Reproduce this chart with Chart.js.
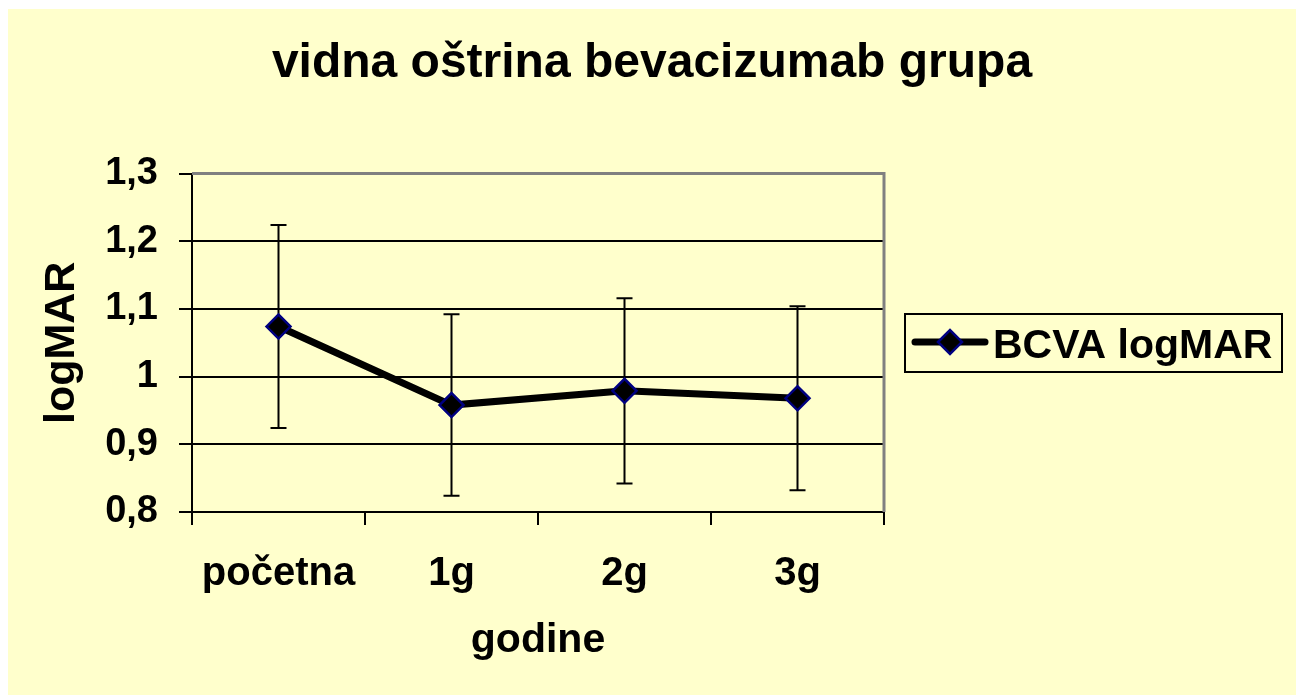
<!DOCTYPE html>
<html>
<head>
<meta charset="utf-8">
<script src="https://cdn.jsdelivr.net/npm/chart.js@4.4.1/dist/chart.umd.min.js"></script>
<style>
  html, body { margin: 0; padding: 0; background: #fff; }
  #wrap { position: absolute; left: 8px; top: 9px; width: 1288px; height: 686px; background: #FFFFCC; }
</style>
</head>
<body>
<div id="wrap"><canvas id="chart"></canvas></div>
<script>
// chart data
const categories = ['početna', '1g', '2g', '3g'];
const bcvaValues = [1.074, 0.958, 0.979, 0.968];
const bcvaSd = [0.15, 0.134, 0.137, 0.136];
const yTickLabels = ['0,8', '0,9', '1', '1,1', '1,2', '1,3'];

const FONT = "'Liberation Sans', Arial, sans-serif";

// gray top/right frame + error bars behind the line
const errorBars = {
  id: 'errorBars',
  beforeDatasetsDraw(chart) {
    const { ctx, chartArea: a, scales } = chart;
    ctx.save();
    ctx.strokeStyle = '#808080';
    ctx.lineWidth = 3;
    ctx.beginPath();
    ctx.moveTo(a.left, a.top);
    ctx.lineTo(a.right, a.top);
    ctx.lineTo(a.right, a.bottom);
    ctx.stroke();

    ctx.strokeStyle = '#000';
    ctx.lineWidth = 2;
    bcvaValues.forEach((v, i) => {
      const x = scales.x.getPixelForValue(i);
      const yTop = scales.y.getPixelForValue(v + bcvaSd[i]);
      const yBot = scales.y.getPixelForValue(v - bcvaSd[i]);
      ctx.beginPath();
      ctx.moveTo(x, yTop); ctx.lineTo(x, yBot);
      ctx.moveTo(x - 8, yTop); ctx.lineTo(x + 8, yTop);
      ctx.moveTo(x - 8, yBot); ctx.lineTo(x + 8, yBot);
      ctx.stroke();
    });
    ctx.restore();
  }
};

// boxed legend with line + diamond symbol
const boxLegend = {
  id: 'boxLegend',
  afterDraw(chart) {
    const { ctx, chartArea: a } = chart;
    const left = a.right + 21, top = 305, w = 377, h = 58;
    const cy = top + 28;
    ctx.save();
    ctx.strokeStyle = '#000';
    ctx.lineWidth = 2;
    ctx.strokeRect(left, top, w, h);

    ctx.lineWidth = 7;
    ctx.lineCap = 'round';
    ctx.beginPath();
    ctx.moveTo(left + 10, cy);
    ctx.lineTo(left + 80, cy);
    ctx.stroke();

    const dx = left + 45, r = 12;
    ctx.beginPath();
    ctx.moveTo(dx - r, cy); ctx.lineTo(dx, cy - r);
    ctx.lineTo(dx + r, cy); ctx.lineTo(dx, cy + r);
    ctx.closePath();
    ctx.fillStyle = '#000';
    ctx.fill();
    ctx.lineWidth = 2.5;
    ctx.lineCap = 'butt';
    ctx.strokeStyle = '#000080';
    ctx.stroke();

    ctx.fillStyle = '#000';
    ctx.font = 'bold 41px ' + FONT;
    ctx.textBaseline = 'alphabetic';
    ctx.fillText('BCVA logMAR', left + 88, top + 44);
    ctx.restore();
  }
};

new Chart(document.getElementById('chart'), {
  type: 'line',
  data: {
    labels: categories,
    datasets: [{
      label: 'BCVA logMAR',
      data: bcvaValues,
      borderColor: '#000',
      borderWidth: 7,
      pointStyle: 'rectRot',
      pointRadius: 12,
      pointBackgroundColor: '#000',
      pointBorderColor: '#000080',
      pointBorderWidth: 2.5,
      tension: 0
    }]
  },
  options: {
    responsive: true,
    maintainAspectRatio: false,
    animation: false,
    layout: { padding: 0 },
    plugins: {
      legend: { display: false },
      tooltip: { enabled: false },
      title: {
        display: true,
        text: 'vidna oštrina bevacizumab grupa',
        color: '#000',
        font: { family: FONT, size: 48, weight: 'bold' },
        padding: { top: 26, bottom: 81 }
      }
    },
    scales: {
      x: {
        offset: true,
        afterFit: s => { s.height = 183; },
        grid: { offset: true, drawOnChartArea: false, drawTicks: true, tickLength: 13, color: '#000', lineWidth: 2 },
        border: { color: '#000', width: 2 },
        ticks: { color: '#000', padding: 25, font: { family: FONT, size: 40, weight: 'bold' } },
        title: {
          display: true, text: 'godine', color: '#000',
          font: { family: FONT, size: 41, weight: 'bold' },
          padding: { top: 0, bottom: 30 }
        }
      },
      y: {
        min: 0.8,
        max: 1.3,
        afterFit: s => { s.width = 184; },
        grid: {
          color: c => (c.tick && c.tick.value > 1.29) ? 'rgba(0,0,0,0)' : '#000',
          tickColor: '#000',
          lineWidth: 2,
          tickLength: 13
        },
        border: { color: '#000', width: 2 },
        ticks: {
          stepSize: 0.1,
          color: '#000',
          padding: 21,
          font: { family: FONT, size: 38, weight: 'bold' },
          callback: (v, i) => yTickLabels[i]
        },
        title: {
          display: true, text: 'logMAR', color: '#000',
          font: { family: FONT, size: 43, weight: 'bold' },
          padding: { top: 28, bottom: 0 }
        }
      },
      // empty right-side box that reserves room for the legend
      legendSpace: {
        type: 'linear',
        position: 'right',
        display: true,
        afterFit: s => { s.width = 412; },
        grid: { display: false },
        border: { display: false },
        ticks: { display: false },
        title: { display: false }
      }
    }
  },
  plugins: [errorBars, boxLegend]
});
</script>
</body>
</html>
